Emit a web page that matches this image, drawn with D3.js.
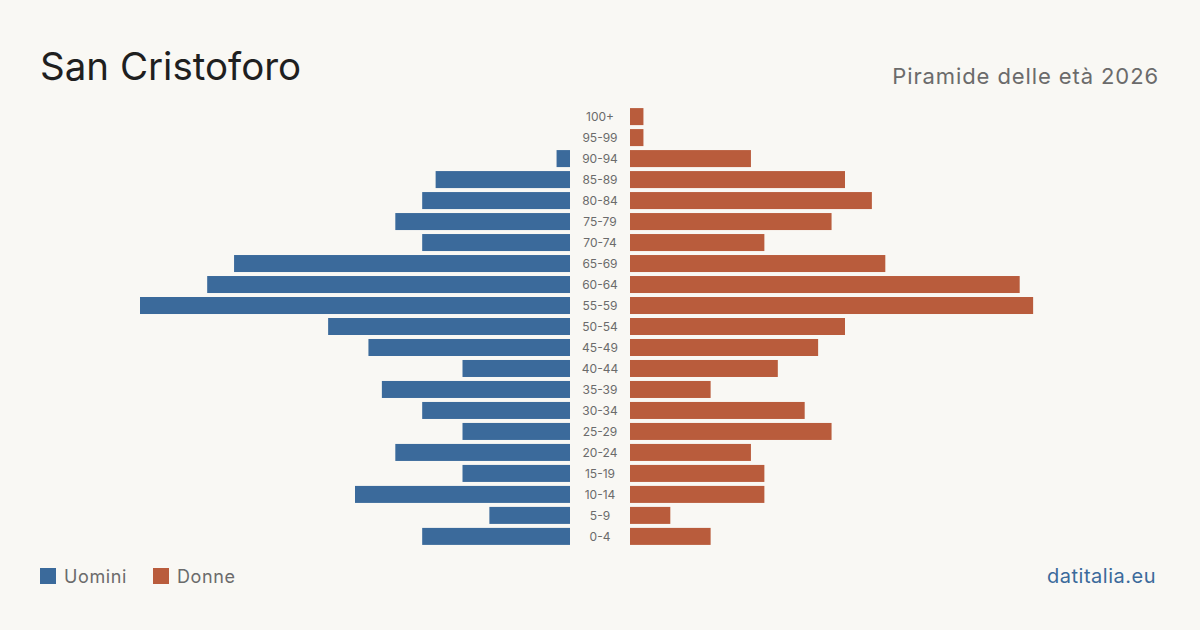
<!DOCTYPE html>
<html>
<head>
<meta charset="utf-8">
<script src="https://cdn.jsdelivr.net/npm/d3@7"></script>
<style>
	html, body { margin: 0; padding: 0; background: #f9f8f4; }
	svg { display: block; font-family: Inter, "Noto Sans", sans-serif; }
</style>
</head>
<body>
<svg width="1200" height="630"></svg>
<script>
// age classes, top to bottom
const ageGroups = ["100+", "95-99", "90-94", "85-89", "80-84", "75-79", "70-74", "65-69", "60-64", "55-59",
	"50-54", "45-49", "40-44", "35-39", "30-34", "25-29", "20-24", "15-19", "10-14", "5-9", "0-4"];
const men = [0, 0, 1, 10, 11, 13, 11, 25, 27, 32, 18, 15, 8, 14, 11, 8, 13, 8, 16, 6, 11];
const women = [1, 1, 9, 16, 18, 15, 10, 19, 29, 30, 16, 14, 11, 6, 13, 15, 9, 10, 10, 3, 6];

const blue = "#3b6a9b";
const orange = "#b95c3c";

var svg = d3.select("svg");

// title + subtitle
svg.append("text")
	.attr("x", 40).attr("y", 80)
	.attr("font-size", 38.5).attr("fill", "#1f1f1f")
	.text("San Cristoforo");

svg.append("text")
	.attr("x", 1159).attr("y", 84)
	.attr("text-anchor", "end")
	.attr("font-size", 22).attr("fill", "#6b6b6b")
	.attr("letter-spacing", 0.9)
	.text("Piramide delle età 2026");

// scales
var maxVal = d3.max(men.concat(women));
var xLeft = d3.scaleLinear().domain([0, maxVal]).range([570, 140]);
var xRight = d3.scaleLinear().domain([0, maxVal]).range([630, 1060]);
var y = d3.scaleBand().domain(ageGroups).range([106, 547]).paddingInner(0.19).paddingOuter(0.1);

svg.append("g").selectAll("rect")
	.data(ageGroups)
	.join("rect")
	.attr("x", (d, i) => xLeft(men[i]))
	.attr("y", d => y(d))
	.attr("width", (d, i) => xLeft(0) - xLeft(men[i]))
	.attr("height", y.bandwidth())
	.attr("fill", blue);

svg.append("g").selectAll("rect")
	.data(ageGroups)
	.join("rect")
	.attr("x", xRight(0))
	.attr("y", d => y(d))
	.attr("width", (d, i) => xRight(women[i]) - xRight(0))
	.attr("height", y.bandwidth())
	.attr("fill", orange);

// age labels in the middle
svg.append("g").selectAll("text")
	.data(ageGroups)
	.join("text")
	.attr("x", 600)
	.attr("y", d => y(d) + y.bandwidth() / 2)
	.attr("dy", "0.35em")
	.attr("text-anchor", "middle")
	.attr("font-size", 12)
	.attr("fill", "#6b6b6b")
	.text(d => d);

// legend
var legend = [["Uomini", blue, 40], ["Donne", orange, 153]];
legend.forEach(function (l) {
	svg.append("rect")
		.attr("x", l[2]).attr("y", 568)
		.attr("width", 16).attr("height", 16)
		.attr("fill", l[1]);
	svg.append("text")
		.attr("x", l[2] + 24).attr("y", 583)
		.attr("font-size", 18).attr("fill", "#6b6b6b")
		.attr("letter-spacing", 0.6)
		.text(l[0]);
});

svg.append("text")
	.attr("x", 1156).attr("y", 583)
	.attr("text-anchor", "end")
	.attr("font-size", 20).attr("fill", blue)
	.attr("letter-spacing", 0.5)
	.text("datitalia.eu");
</script>
</body>
</html>
